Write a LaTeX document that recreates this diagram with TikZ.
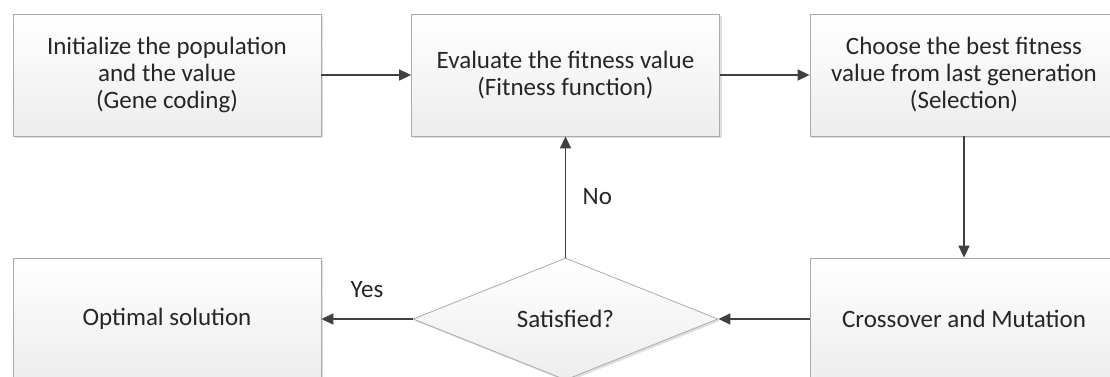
\documentclass[tikz,border=0pt]{standalone}
\usepackage{fontspec}
\setmainfont{Carlito}
\usetikzlibrary{arrows.meta,shapes.geometric,shadows}
\definecolor{galine}{HTML}{404040}
\definecolor{gaedge}{HTML}{ABABAB}
\definecolor{gatext}{HTML}{262626}
\definecolor{gafill}{HTML}{EDEDED}

\begin{document}
\begin{tikzpicture}[x=1pt,y=-1pt,
  box/.style={rectangle,draw=gaedge,line width=0.8pt,top color=white,
              bottom color=gafill,minimum width=308pt,minimum height=122pt,
              inner sep=0pt,align=center,text=gatext,
              font=\fontsize{25}{27}\selectfont,
              drop shadow={shadow xshift=2pt,shadow yshift=-2pt,opacity=0.25}},
  dec/.style={diamond,draw=gaedge,line width=0.8pt,top color=white,
              bottom color=gafill,minimum width=305pt,minimum height=122pt,
              aspect=2.5,inner sep=0pt,text=gatext,
              font=\fontsize{25}{27}\selectfont,
              drop shadow={shadow xshift=2pt,shadow yshift=-2pt,opacity=0.25}},
  arr/.style={draw=galine,line width=1.6pt,-{Triangle[length=12pt,width=11pt]}},
  lbl/.style={text=gatext,font=\fontsize{25}{27}\selectfont}
]
\useasboundingbox (0,0) rectangle (1110,377);

% ---- Top row ------------------------------------------------
\node[box] (b1) at (167,75)
  {Initialize the population\\ and the value\\ (Gene coding)};
\node[box] (b2) at (565.5,75)
  {Evaluate the fitness value\\ (Fitness function)};
\node[box] (b3) at (964,75)
  {Choose the best fitness\\ value from last generation\\ (Selection)};

% ---- Bottom row ---------------------------------------------
\node[box] (b5) at (167,319) {Optimal solution};
\node[dec] (d1) at (565.5,319) {Satisfied?};
\node[box] (b4) at (964,319) {Crossover and Mutation};

% Connectors
\draw[arr] (b1) -- (b2);
\draw[arr] (b2) -- (b3);
\draw[arr] (b3) -- (b4);
\draw[arr] (b4) -- (d1);
\draw[arr] (d1) -- node[lbl,above=17pt] {Yes} (b5);
\draw[arr] (d1) -- node[lbl,right=13pt] {No} (b2);

\end{tikzpicture}
\end{document}
